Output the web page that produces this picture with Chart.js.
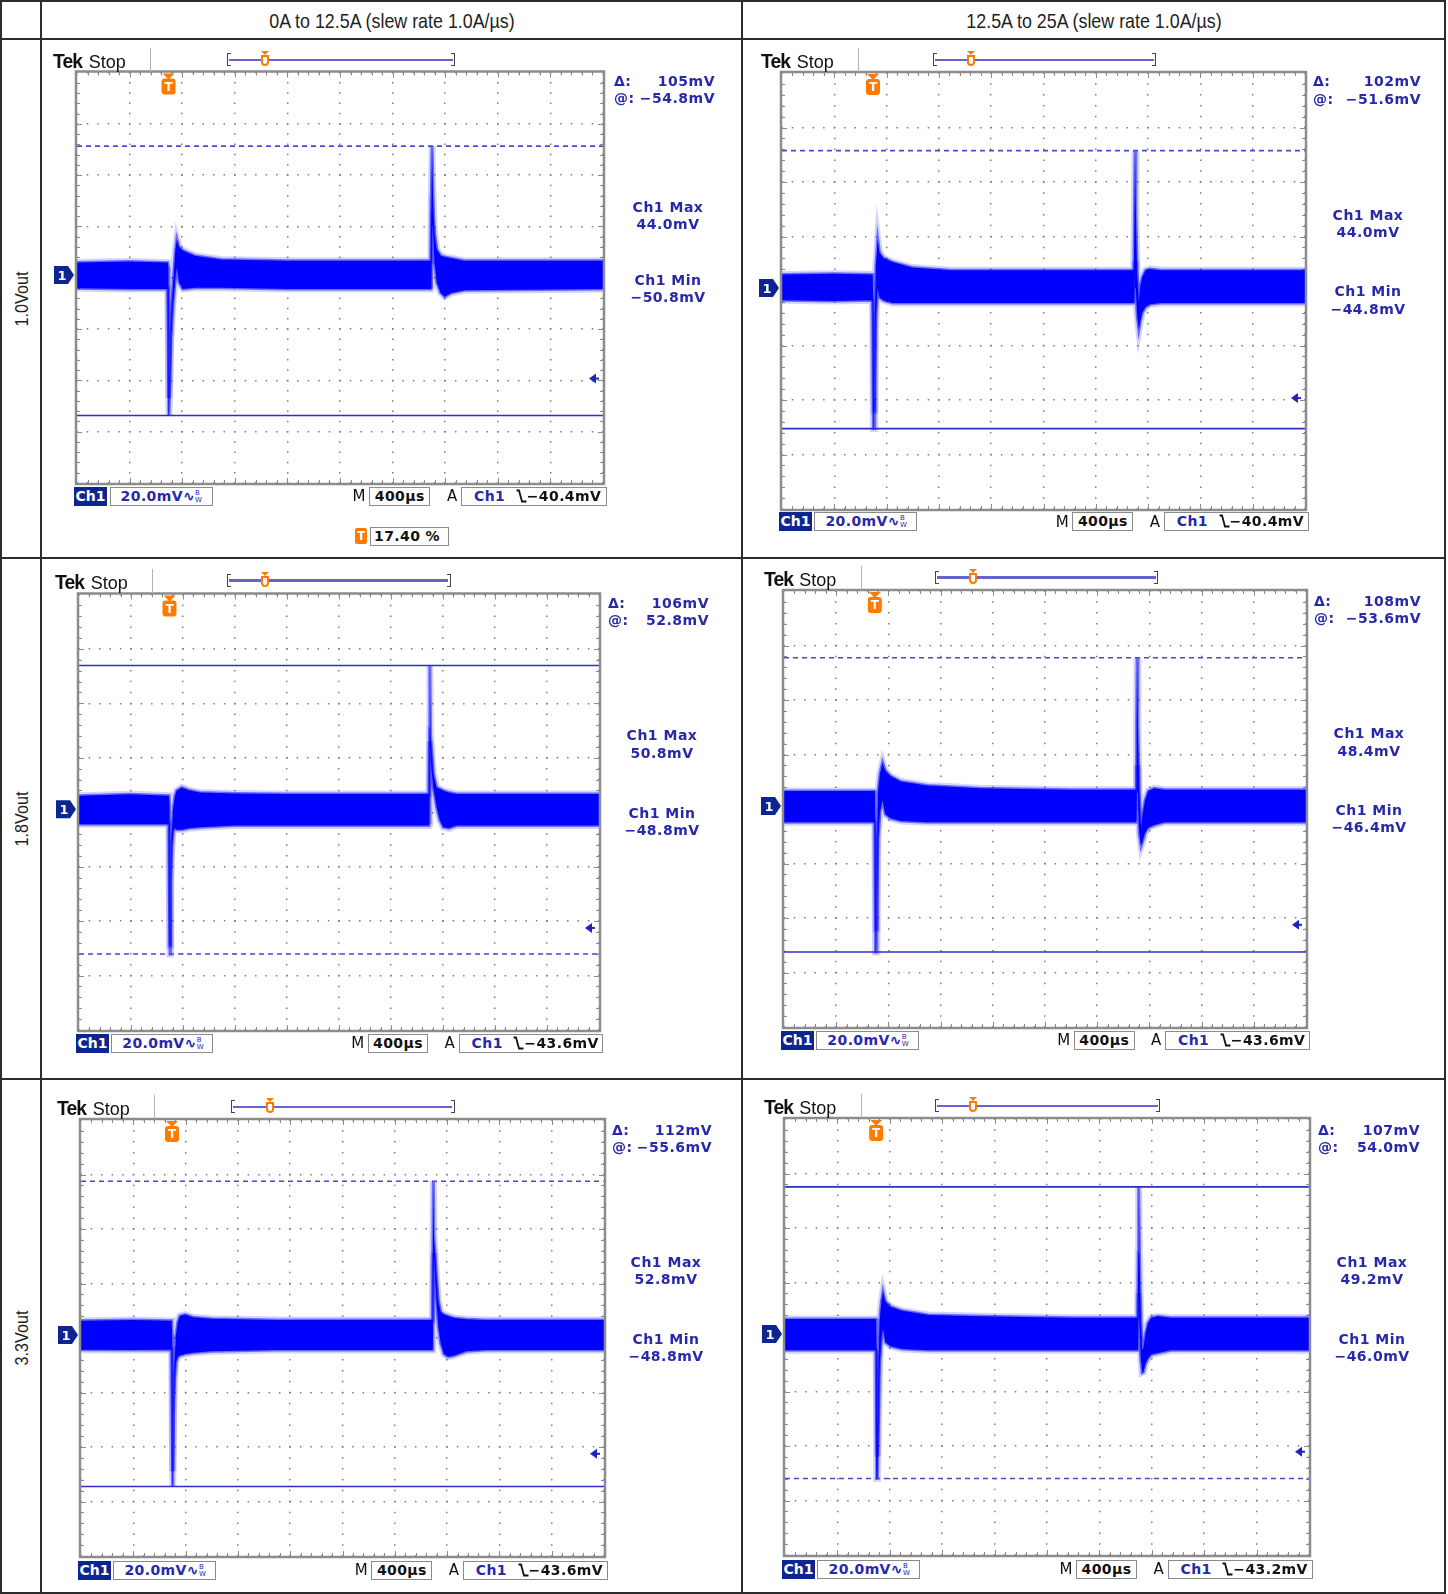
<!DOCTYPE html>
<html><head><meta charset="utf-8">
<script src="https://cdn.jsdelivr.net/npm/chart.js@4.4.1/dist/chart.umd.min.js"></script>
<style>
html,body{margin:0;padding:0;background:#fff;}
#page{position:relative;width:1448px;height:1594px;overflow:hidden;background:#fff;}
.ln{position:absolute;background:#2b2b2b;}
.cv{position:absolute;}
.hdr{position:absolute;font-family:"Liberation Sans",Arial,sans-serif;font-size:21px;color:#1e1e1e;white-space:nowrap;transform:translate(-50%,-50%) scaleX(0.85);line-height:1;}
.rowlab{position:absolute;font-family:"Liberation Sans",Arial,sans-serif;font-size:19px;color:#1e1e1e;white-space:nowrap;transform:translate(-50%,-50%) rotate(-90deg) scaleX(0.85);line-height:1;}
.sc{position:absolute;font-family:"DejaVu Sans",sans-serif;font-size:14px;font-weight:bold;color:#2828aa;white-space:pre;line-height:1;letter-spacing:0.5px;}
.tek{position:absolute;font-family:"Liberation Sans",Arial,sans-serif;white-space:nowrap;line-height:1;transform:translateY(-50%);color:#111;}
.tek b{font-size:21px;font-weight:bold;letter-spacing:-1px;display:inline-block;transform:scaleX(0.92);transform-origin:left center;}
.tek span{font-size:18px;margin-left:4px;}
.box{position:absolute;box-sizing:border-box;border:1px solid #8a8a8a;background:#fff;height:19px;line-height:17px;font-family:"DejaVu Sans",sans-serif;font-size:14px;font-weight:bold;white-space:nowrap;letter-spacing:0.4px;}
.navy{position:absolute;box-sizing:border-box;background:#0d2590;color:#fff;height:19px;line-height:19px;font-family:"DejaVu Sans",sans-serif;font-size:14px;font-weight:bold;text-align:center;}
.blk{position:absolute;font-family:"DejaVu Sans",sans-serif;font-size:15px;color:#111;line-height:1;transform:translate(-50%,-50%);}
.mk{position:absolute;color:#fff;font-family:"DejaVu Sans",sans-serif;font-weight:bold;line-height:1;transform:translate(-50%,-50%);}
.bw{display:inline-block;font-size:7px;line-height:7px;vertical-align:middle;letter-spacing:0;font-weight:normal;}
</style></head>
<body><div id="page"></div>
<script>
// ---------- text content ----------
const COLUMNS = ['0A to 12.5A (slew rate 1.0A/µs)', '12.5A to 25A (slew rate 1.0A/µs)'];
const ROWS = ['1.0Vout', '1.8Vout', '3.3Vout'];
const DELTA = ['105mV', '102mV', '106mV', '108mV', '112mV', '107mV'];
const AT = ['−54.8mV', '−51.6mV', '52.8mV', '−53.6mV', '−55.6mV', '54.0mV'];
const CH1_MAX = ['44.0mV', '44.0mV', '50.8mV', '48.4mV', '52.8mV', '49.2mV'];
const CH1_MIN = ['−50.8mV', '−44.8mV', '−48.8mV', '−46.4mV', '−48.8mV', '−46.0mV'];
const TRIG_TEXT = ['−40.4mV', '−40.4mV', '−43.6mV', '−43.6mV', '−43.6mV', '−43.2mV'];
const TRIG_LEVEL = [-40.4, -40.4, -43.6, -43.6, -43.6, -43.2];   // mV
const VOLTS_DIV = '20.0mV';
const TIME_DIV = '400µs';
const TRIG_POS = '17.40 %';

// ---------- axes (time in µs from trigger, amplitude in mV) ----------
const X_RANGE = [-696, 3304];
const X_GRID = [-696, -296, 104, 504, 904, 1304, 1704, 2104, 2504, 2904, 3304];
const Y_RANGE = [-81.1, 78.9];
const Y_GRID = [-81.1, -61.1, -41.1, -21.1, -1.1, 18.9, 38.9, 58.9, 78.9];

// ---------- waveforms: upper / lower envelope of the noisy trace (mV) ----------
// A: 1.0Vout, 0A to 12.5A
const A_time  = [-696, -300, -6, -1, 3, 9, 18, 33, 51, 63, 80, 110, 200, 400, 900, 1500, 1996, 2000, 2004, 2012, 2022, 2040, 2070, 2100, 2150, 2250, 3304];
const A_upper = [4.8, 5.2, 4.8, 3, -48, -38, -19, -5, 9, 14, 11, 9.5, 7.5, 6, 5.5, 5.5, 5.5, 35, 50.2, 30, 16, 10, 7.5, 7, 6.5, 5.5, 5.5];
const A_lower = [-5.2, -5.5, -5.5, -30, -54.8, -45, -25, -11, -2, 3, -3, -5.5, -5, -5, -5.5, -5.5, -5.5, -5, 20, 18, 5, -3, -7, -8.5, -7, -6, -5.5];
const A_cursor = [-54.8, 50.2];   // [solid, dashed]
// B: 1.0Vout, 12.5A to 25A
const B_time  = [-696, -300, -2, 3, 8, 14, 22, 36, 50, 80, 150, 300, 600, 1200, 1995, 2000, 2004, 2010, 2020, 2033, 2045, 2060, 2085, 2120, 2200, 3304];
const B_upper = [5, 5.2, 5, -10, -45, -15, 8, 18, 13, 11, 9.5, 7.5, 6.5, 6.5, 6.5, 30, 50.4, 30, 5, -5, 1, 4, 6.5, 7, 6.5, 6.5];
const B_lower = [-4.5, -4.8, -4.5, -51.6, -51.6, -35, -10, 0, -3.5, -4.5, -5.5, -5.5, -5.5, -5.5, -5.5, -5, 10, 0, -10, -15.4, -12, -9, -7, -6, -5.5, -5.5];
const B_cursor = [-51.6, 50.4];
// C: 1.8Vout, 0A to 12.5A
const C_time  = [-696, -300, -4, 0, 4, 9, 17, 29, 42, 55, 94, 150, 235, 500, 900, 1500, 1996, 2000, 2003, 2008, 2016, 2029, 2055, 2080, 2106, 2150, 2209, 2400, 3304];
const C_upper = [5, 5.5, 5, 2, -50, -22, -9, 0.7, 5, 6.8, 8, 7, 6.2, 5.8, 5.6, 5.6, 5.6, 30, 52.8, 28, 21, 13, 8, 7.5, 6.8, 6.2, 5.6, 5.6, 5.6];
const C_lower = [-5.5, -5.5, -5.5, -35, -53.2, -27, -14, -8, -7, -7.5, -7.5, -7, -6.6, -6, -6, -6, -6, -5, 25, 22, 15, 8, 0.7, -4, -6.6, -7, -6, -6, -6];
const C_cursor = [52.8, -53.2];
// D: 1.8Vout, 12.5A to 25A
const D_time  = [-696, -300, 0, 5, 10, 16, 24, 40, 59, 80, 120, 200, 400, 800, 1500, 2002, 2006, 2010, 2016, 2026, 2040, 2052, 2070, 2095, 2140, 2220, 3304];
const D_upper = [5.5, 5.5, 5.5, -10, -45, -20, 5, 12, 16, 13, 11, 9, 7.5, 6.5, 6, 6, 30, 54.4, 30, 5, -8, -3, 2, 5.5, 6.5, 6, 6];
const D_lower = [-6, -6, -6, -53.6, -53.6, -38, -12, -2, 2, -3, -4.5, -5.5, -6, -6, -6, -6, -5, 15, 5, -10, -14.7, -13, -10, -8, -7, -6, -6];
const D_cursor = [-53.6, 54.4];
// E: 3.3Vout, 0A to 12.5A
const E_time  = [-696, -300, -2, 2, 6, 11, 19, 30, 45, 60, 100, 160, 300, 800, 1500, 1990, 1995, 1999, 2004, 2012, 2024, 2037, 2055, 2080, 2110, 2160, 2250, 2400, 3304];
const E_upper = [5.2, 5.5, 5.2, 0, -50, -24, -10, 0, 5, 7, 7.5, 6.5, 6, 5.5, 5.5, 5.5, 30, 56.4, 36, 30, 20, 12.4, 8.5, 7.5, 7, 6.2, 5.8, 5.5, 5.5];
const E_lower = [-5.4, -5.5, -5.4, -35, -55.6, -30, -16, -10, -8, -7.5, -7, -6.5, -6, -5.5, -5.5, -5.5, -5, 25, 30, 22, 12, 3, -3, -7, -8, -7.5, -6, -5.5, -5.5];
const E_cursor = [-55.6, 56.4];
// F: 3.3Vout, 12.5A to 25A
const F_time  = [-696, -300, 0, 5, 10, 16, 25, 40, 52, 70, 110, 200, 400, 800, 1500, 1996, 2000, 2004, 2010, 2020, 2030, 2040, 2055, 2075, 2100, 2150, 2250, 3304];
const F_upper = [5.5, 5.5, 5.5, -10, -45, -20, 4, 12, 15.6, 12, 10, 8.5, 7, 6.5, 6, 6, 30, 54, 30, 5, -6, -5, 0, 4, 6, 6.5, 6, 6];
const F_lower = [-6, -6, -6, -53, -53, -36, -12, -2, 2, -3, -4.5, -5.5, -6, -6, -6, -6, -5, 15, 5, -8, -14.2, -14, -11, -9, -7.5, -7, -6, -6];
const F_cursor = [54.0, -53.0];

const WAVES = [
  [A_time, A_upper, A_lower, A_cursor],
  [B_time, B_upper, B_lower, B_cursor],
  [C_time, C_upper, C_lower, C_cursor],
  [D_time, D_upper, D_lower, D_cursor],
  [E_time, E_upper, E_lower, E_cursor],
  [F_time, F_upper, F_lower, F_cursor],
];

// ---------- page layout (pixels) ----------
const LAYOUT = [
  {cell:[42,40,741,557],    grat:[77,72.5,603,483],   tek:[53,60],      br:[227,455,60,265.4],      L:614,  R:715,   C:668,   d:[81,98],       mx:[207,224],     mn:[280,297],     bot:496},
  {cell:[743,40,1444,557],  grat:[782,73,1305,509],   tek:[761,60],     br:[932.5,1156,60,971],     L:1313, R:1421,  C:1368,  d:[81,99],       mx:[215,232],     mn:[291,309],     bot:521.6},
  {cell:[42,559,741,1078],  grat:[79,594.5,599,1030], tek:[55,580.6],   br:[226.8,450.5,580.6,265.4], L:608, R:709,  C:662,   d:[603,620],     mx:[735,753],     mn:[813,830],     bot:1043.3},
  {cell:[743,559,1444,1078],grat:[784,591,1306,1027], tek:[763.6,577.6],br:[934.5,1158,577.6,973],  L:1314, R:1421,  C:1369,  d:[601,618],     mx:[733,751],     mn:[810,827],     bot:1040.2},
  {cell:[42,1080,741,1592], grat:[81,1120,604,1556],  tek:[57,1107.4],  br:[230.8,454.5,1107.4,269.5], L:612, R:712, C:666,   d:[1129.5,1147], mx:[1262,1279],   mn:[1339,1356],   bot:1570},
  {cell:[743,1080,1444,1592],grat:[785,1119,1309,1555],tek:[763.6,1106.3],br:[934.5,1160,1106.3,973], L:1318, R:1420, C:1372,  d:[1129.5,1147], mx:[1262,1279],   mn:[1339,1356],   bot:1569},
];

const page = document.getElementById('page');
function el(tag, cls, style, html) {
  const e = document.createElement(tag);
  if (cls) e.className = cls;
  for (const k in style) e.style[k] = (typeof style[k] === 'number') ? style[k] + 'px' : style[k];
  if (html !== undefined) e.innerHTML = html;
  page.appendChild(e);
  return e;
}

// ---------- table frame ----------
[[0,0,1446,2],[0,38,1446,2],[0,557,1446,2],[0,1078,1446,2],[0,1592,1446,2],
 [0,0,2,1594],[40,0,2,1594],[741,0,2,1594],[1444,0,2,1594]].forEach(r =>
  el('div','ln',{left:r[0],top:r[1],width:r[2],height:r[3]}));
el('div','hdr',{left:391.5,top:20}, COLUMNS[0]);
el('div','hdr',{left:1093.5,top:20}, COLUMNS[1]);
el('div','rowlab',{left:21,top:298.5}, ROWS[0]);
el('div','rowlab',{left:21,top:818.5}, ROWS[1]);
el('div','rowlab',{left:21,top:1338}, ROWS[2]);

// ---------- chart plugin: graticule frame, ticks, markers ----------
function rr(ctx, x, y, w, h, r) {
  ctx.beginPath();
  ctx.moveTo(x + r, y); ctx.lineTo(x + w - r, y); ctx.quadraticCurveTo(x + w, y, x + w, y + r);
  ctx.lineTo(x + w, y + h - r); ctx.quadraticCurveTo(x + w, y + h, x + w - r, y + h);
  ctx.lineTo(x + r, y + h); ctx.quadraticCurveTo(x, y + h, x, y + h - r);
  ctx.lineTo(x, y + r); ctx.quadraticCurveTo(x, y, x + r, y); ctx.closePath();
}
const scopePlugin = {
  id: 'scope',
  beforeDatasetsDraw(chart) {
    const {ctx, chartArea: a} = chart;
    const dx = (a.right - a.left) / 50, dy = (a.bottom - a.top) / 40;
    ctx.save();
    ctx.strokeStyle = '#8a8a8a'; ctx.lineWidth = 1;
    ctx.beginPath();
    for (let i = 1; i < 50; i++) {
      const x = Math.round(a.left + i * dx) + 0.5, l = i % 5 ? 3 : 5;
      ctx.moveTo(x, a.top); ctx.lineTo(x, a.top + l);
      ctx.moveTo(x, a.bottom); ctx.lineTo(x, a.bottom - l);
    }
    for (let j = 1; j < 40; j++) {
      const y = Math.round(a.top + j * dy) + 0.5, l = j % 5 ? 3 : 5;
      ctx.moveTo(a.left, y); ctx.lineTo(a.left + l, y);
      ctx.moveTo(a.right, y); ctx.lineTo(a.right - l, y);
    }
    ctx.stroke();
    ctx.restore();
  },
  afterDatasetsDraw(chart) {
    const {ctx, chartArea: a, scales} = chart;
    const o = chart.options.plugins.scope;
    ctx.save();
    ctx.strokeStyle = '#8c8c8c'; ctx.lineWidth = 2.5;
    ctx.strokeRect(a.left - 1, a.top - 1, a.right - a.left + 2, a.bottom - a.top + 2);
    const ty = scales.y.getPixelForValue(o.trig);
    ctx.fillStyle = '#2222c0';
    ctx.beginPath(); ctx.moveTo(a.right - 14, ty); ctx.lineTo(a.right - 7, ty - 5); ctx.lineTo(a.right - 7, ty + 5); ctx.closePath(); ctx.fill();
    ctx.fillRect(a.right - 8, ty - 1, 4, 2);
    const gy = scales.y.getPixelForValue(0);
    ctx.fillStyle = '#0d2590';
    ctx.beginPath(); ctx.moveTo(a.left - 23, gy - 9); ctx.lineTo(a.left - 9, gy - 9); ctx.lineTo(a.left - 3, gy);
    ctx.lineTo(a.left - 9, gy + 9); ctx.lineTo(a.left - 23, gy + 9); ctx.closePath(); ctx.fill();
    const tx = scales.x.getPixelForValue(0);
    ctx.fillStyle = '#ff7a00';
    ctx.beginPath(); ctx.moveTo(tx - 6, a.top + 1); ctx.lineTo(tx + 6, a.top + 1); ctx.lineTo(tx, a.top + 7); ctx.closePath(); ctx.fill();
    rr(ctx, tx - 7, a.top + 6, 14, 16, 3); ctx.fill();
    ctx.restore();
  }
};

const SLOPE = '<svg width="11" height="14" viewBox="0 0 11 14" style="vertical-align:-2px"><path d="M0.5 1.5 H3 L6 12.5 H10.5" fill="none" stroke="#111" stroke-width="1.8"/></svg>';
const BWTAG = '∿<span class="bw">B<br>W</span>';

// ---------- panels ----------
LAYOUT.forEach((Lp, k) => {
  const [time, upper, lower, cursor] = WAVES[k];
  const [cx0, cy0, cx1, cy1] = Lp.cell;
  const [gx0, gy0, gx1, gy1] = Lp.grat;
  const cv = el('canvas', 'cv', {left:cx0, top:cy0});
  cv.width = cx1 - cx0; cv.height = cy1 - cy0;
  const spX = (gx1 - gx0) / 50, spY = (gy1 - gy0) / 40;
  const pts = ys => time.map((t, i) => ({x: t, y: ys[i]}));
  const hline = v => [{x: X_RANGE[0], y: v}, {x: X_RANGE[1], y: v}];
  const chart = new Chart(cv, {
    type: 'line',
    data: {datasets: [
      {data: hline(cursor[0]), borderColor: '#2e2ec6', borderWidth: 1.6, fill: false, order: 0},
      {data: hline(cursor[1]), borderColor: '#4848d4', borderWidth: 1.6, borderDash: [5, 4], fill: false, order: 0},
      {data: pts(upper), fill: '+1', backgroundColor: '#0000ff', borderColor: 'rgba(0,0,255,0.5)', borderWidth: 3, order: 1},
      {data: pts(lower), fill: false, borderColor: 'rgba(0,0,255,0.5)', borderWidth: 3, order: 1},
      {data: pts(upper), fill: false, borderColor: 'rgba(40,40,255,0.2)', borderWidth: 7, order: 2},
      {data: pts(lower), fill: false, borderColor: 'rgba(40,40,255,0.2)', borderWidth: 7, order: 2},
    ]},
    options: {
      responsive: false, animation: false, events: [],
      layout: {padding: {left: gx0 - cx0, top: gy0 - cy0, right: cx1 - gx1, bottom: cy1 - gy1}},
      elements: {point: {radius: 0}, line: {tension: 0}},
      plugins: {legend: {display: false}, tooltip: {enabled: false}, scope: {trig: TRIG_LEVEL[k]}},
      scales: {
        x: {type: 'linear', min: X_RANGE[0], max: X_RANGE[1],
            ticks: {display: false}, grid: {color: '#7c7c7c', lineWidth: 1.5, drawTicks: false},
            border: {display: false, dash: [1.5, spY - 1.5], dashOffset: 0.75},
            afterBuildTicks: s => { s.ticks = X_GRID.map(v => ({value: v})); }},
        y: {type: 'linear', min: Y_RANGE[0], max: Y_RANGE[1],
            ticks: {display: false}, grid: {color: '#7c7c7c', lineWidth: 1.5, drawTicks: false},
            border: {display: false, dash: [1.5, spX - 1.5], dashOffset: 0.75},
            afterBuildTicks: s => { s.ticks = Y_GRID.map(v => ({value: v})); }}
      }
    },
    plugins: [scopePlugin]
  });

  // marker labels (real text on top of the drawn marker shapes)
  const a = chart.chartArea;
  el('div', 'mk', {left: cx0 + a.left - 15, top: cy0 + chart.scales.y.getPixelForValue(0), fontSize: '13px'}, '1');
  el('div', 'mk', {left: cx0 + chart.scales.x.getPixelForValue(0), top: cy0 + a.top + 14, fontSize: '12px'}, 'T');

  // top status bar
  const [tx, ty] = Lp.tek;
  el('div', 'tek', {left: tx, top: ty}, '<b>Tek</b><span>Stop</span>');
  el('div', '', {position: 'absolute', left: tx + 97, top: ty - 12, width: 1, height: 24, background: '#b4b4b4'});
  const [b0, b1, by, bm] = Lp.br;
  el('div', '', {position: 'absolute', left: b0, top: by - 7, width: 4, height: 13, borderLeft: '1.5px solid #444', borderTop: '1.5px solid #444', borderBottom: '1.5px solid #444', boxSizing: 'border-box'});
  el('div', '', {position: 'absolute', left: b1 - 4, top: by - 7, width: 4, height: 13, borderRight: '1.5px solid #444', borderTop: '1.5px solid #444', borderBottom: '1.5px solid #444', boxSizing: 'border-box'});
  el('div', '', {position: 'absolute', left: b0 + 2, top: by - 1.5, width: b1 - b0 - 4, height: 2.5, background: '#6464cc'});
  el('div', '', {position: 'absolute', left: bm - 4, top: by - 9, width: 0, height: 0, borderLeft: '4px solid transparent', borderRight: '4px solid transparent', borderTop: '4px solid #ff7a00'});
  el('div', '', {position: 'absolute', left: bm - 4, top: by - 5, width: 8, height: 11, border: '2px solid #ff7a00', borderRadius: '0 0 4px 4px', boxSizing: 'border-box', background: '#fff'});

  // right-hand readouts
  const rightEdge = 1448 - Lp.R;
  el('div', 'sc', {left: Lp.L, top: Lp.d[0], transform: 'translateY(-50%)'}, 'Δ:');
  el('div', 'sc', {right: rightEdge, top: Lp.d[0], transform: 'translateY(-50%)'}, DELTA[k]);
  el('div', 'sc', {left: Lp.L, top: Lp.d[1], transform: 'translateY(-50%)'}, '@:');
  el('div', 'sc', {right: rightEdge, top: Lp.d[1], transform: 'translateY(-50%)'}, AT[k]);
  el('div', 'sc', {left: Lp.C, top: Lp.mx[0], transform: 'translate(-50%,-50%)'}, 'Ch1 Max');
  el('div', 'sc', {left: Lp.C, top: Lp.mx[1], transform: 'translate(-50%,-50%)'}, CH1_MAX[k]);
  el('div', 'sc', {left: Lp.C, top: Lp.mn[0], transform: 'translate(-50%,-50%)'}, 'Ch1 Min');
  el('div', 'sc', {left: Lp.C, top: Lp.mn[1], transform: 'translate(-50%,-50%)'}, CH1_MIN[k]);

  // bottom status line
  const W = gx1 - gx0, yb = Lp.bot - 9.5;
  el('div', 'navy', {left: gx0 - 3, top: yb, width: 33}, 'Ch1');
  el('div', 'box', {left: gx0 + 0.062 * W, top: yb, width: 0.196 * W, color: '#2828aa', paddingLeft: '10px'}, VOLTS_DIV + BWTAG);
  el('div', 'blk', {left: gx0 + 0.536 * W, top: Lp.bot}, 'M');
  el('div', 'box', {left: gx0 + 0.555 * W, top: yb, width: 0.117 * W, color: '#111', textAlign: 'center'}, TIME_DIV);
  el('div', 'blk', {left: gx0 + 0.713 * W, top: Lp.bot}, 'A');
  el('div', 'box', {left: gx0 + 0.73 * W, top: yb, width: 0.277 * W, color: '#111', paddingLeft: '12px'},
     '<span style="color:#2828aa">Ch1</span>&nbsp;&nbsp;' + SLOPE + TRIG_TEXT[k]);

  if (k === 0) {
    el('div', '', {position: 'absolute', left: 355, top: 528, width: 12, height: 16, background: '#ff7a00', borderRadius: '2px'});
    el('div', 'mk', {left: 361, top: 536, fontSize: '12px'}, 'T');
    el('div', 'box', {left: 370, top: 527, width: 79, color: '#111', paddingLeft: '3px'}, TRIG_POS);
  }
});
</script>
</body></html>
